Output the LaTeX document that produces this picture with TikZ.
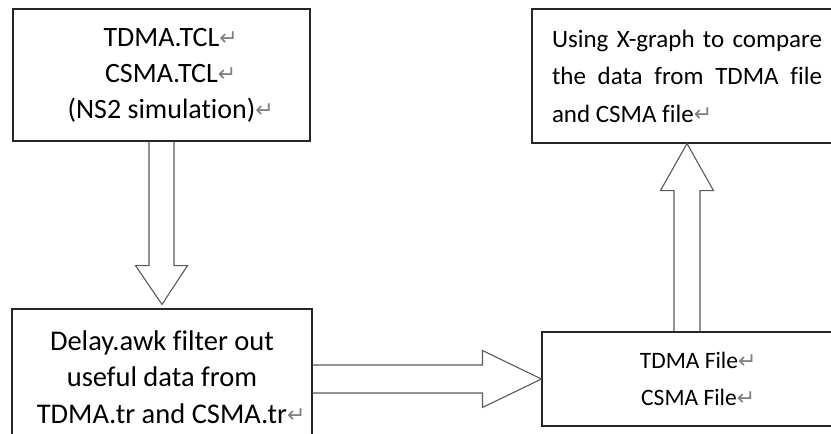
\documentclass[tikz,border=0pt]{standalone}
\usepackage{fontspec}
\setmainfont{Carlito}[Ligatures=NoCommon]
\newfontfamily\markfont{DejaVu Sans}
\usetikzlibrary{calc}
\setlength{\parindent}{0pt}
\newcommand{\parmark}{\rlap{\raisebox{0.5pt}{\markfont\fontsize{22}{22}\selectfont\color{black!50}↵}}}

\begin{document}
\begin{tikzpicture}[
    x=1pt, y=-1pt,
    block/.style={rectangle, draw=black!85, line width=1.1pt, align=center, inner sep=0pt},
    fat/.style={draw=black!65, line width=1.1pt, line join=miter}
]
\clip (0,0) rectangle (831,434);

% boxes
\node[block, minimum width=297pt, minimum height=132pt, font=\fontsize{28}{36}\selectfont] (tcl) at (161.5,75) {TDMA.TCL\parmark\\CSMA.TCL\parmark\\(NS2 simulation)\parmark};
\node[block, minimum width=300pt, minimum height=136pt, font=\fontsize{28.5}{36.5}\selectfont] (awk) at (162,377) {Delay.awk filter out\\useful data from\\TDMA.tr and CSMA.tr\parmark};
\node[block, minimum width=294pt, minimum height=94pt, font=\fontsize{23.5}{37}\selectfont] (file) at (689,379) {TDMA File\parmark\\CSMA File\parmark};
\node[block, minimum width=310pt, minimum height=134pt, text width=270pt, align=justify, font=\fontsize{25}{37.5}\selectfont] (xgraph) at (687,76) {Using X-graph to compare\linebreak the data from TDMA file\linebreak and CSMA file\parmark};

% block arrows
\draw[fat] ($(tcl.south)+(-12.5,0)$) -- ($(tcl.south)+(-12.5,124)$) -- ($(tcl.south)+(-26,124)$) -- ($(awk.north)+(0,-4)$) -- ($(tcl.south)+(26,124)$) -- ($(tcl.south)+(12.5,124)$) -- ($(tcl.south)+(12.5,0)$);
\draw[fat] ($(awk.east |- file.west)+(0,-14)$) -- ($(file.west)+(-59,-14)$) -- ($(file.west)+(-59,-28.5)$) -- (file.west) -- ($(file.west)+(-59,28.5)$) -- ($(file.west)+(-59,14)$) -- ($(awk.east |- file.west)+(0,14)$);
\draw[fat] ($(xgraph.south |- file.north)+(-13,0)$) -- ($(xgraph.south)+(-13,47)$) -- ($(xgraph.south)+(-26.5,47)$) -- (xgraph.south) -- ($(xgraph.south)+(26.5,47)$) -- ($(xgraph.south)+(13,47)$) -- ($(xgraph.south |- file.north)+(13,0)$);

\end{tikzpicture}
\end{document}
